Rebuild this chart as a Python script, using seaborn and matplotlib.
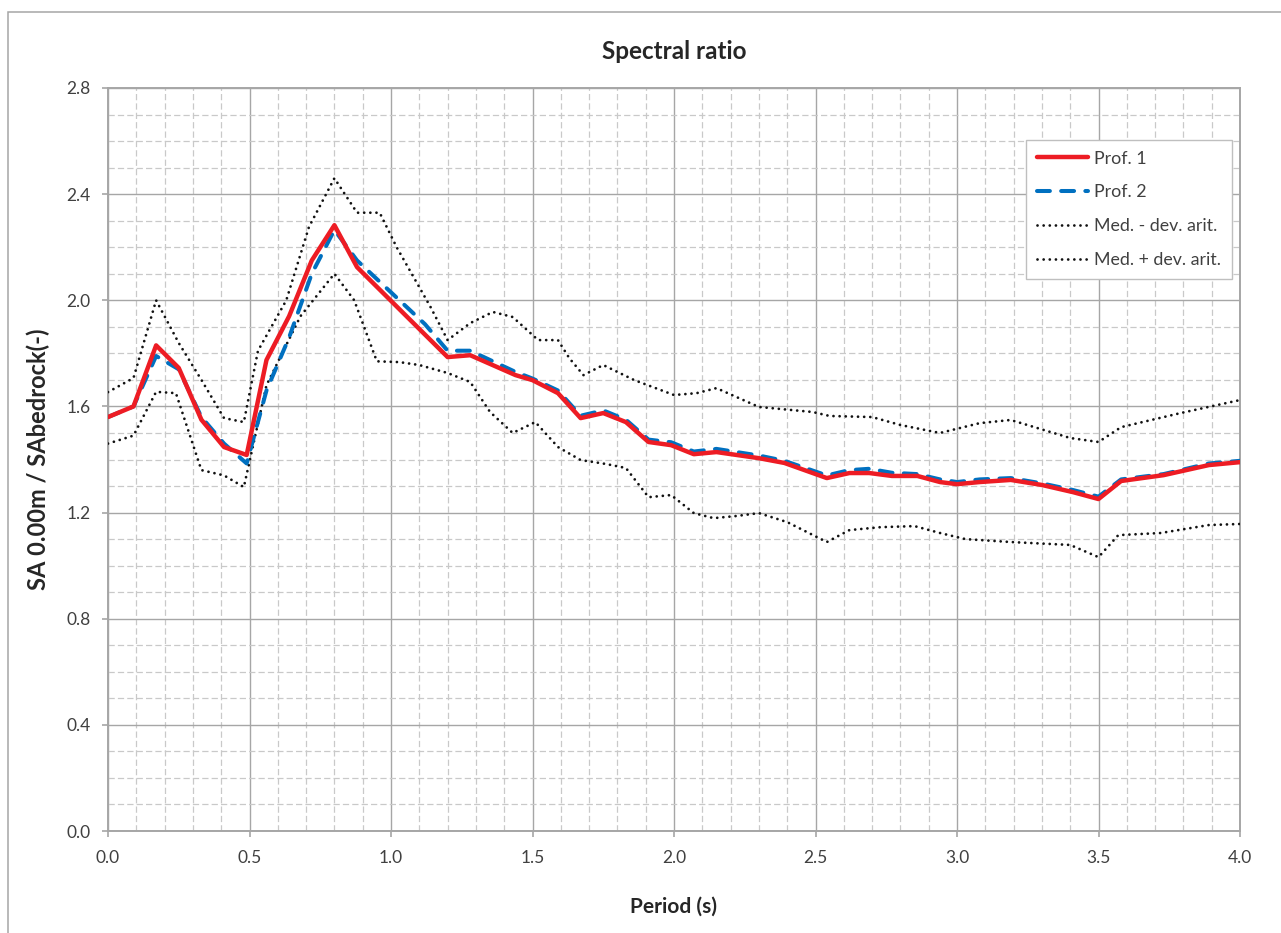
import matplotlib
matplotlib.use("Agg")
import matplotlib.pyplot as plt
from matplotlib.ticker import MultipleLocator, FormatStrFormatter
from matplotlib.patches import Rectangle
import seaborn as sns

# Prof. 1
period_p1 = [0.00, 0.09, 0.17, 0.25, 0.33, 0.41, 0.49, 0.56, 0.64, 0.72, 0.80, 0.88,
             1.20, 1.28, 1.44, 1.50, 1.59, 1.67, 1.75, 1.83, 1.91, 1.99, 2.07, 2.15,
             2.30, 2.39, 2.54, 2.62, 2.69, 2.77, 2.86, 2.94, 3.00, 3.08, 3.19, 3.30,
             3.41, 3.50, 3.58, 3.73, 3.89, 4.00]
ratio_p1 = [1.56, 1.60, 1.83, 1.745, 1.55, 1.447, 1.417, 1.775, 1.94, 2.15, 2.283, 2.125,
            1.786, 1.793, 1.718, 1.699, 1.65, 1.556, 1.575, 1.541, 1.466, 1.454, 1.42, 1.428,
            1.405, 1.387, 1.33, 1.349, 1.349, 1.338, 1.338, 1.315, 1.307, 1.315, 1.323, 1.304,
            1.277, 1.251, 1.319, 1.341, 1.379, 1.39]

# Prof. 2
period_p2 = [0.00, 0.09, 0.17, 0.25, 0.33, 0.41, 0.49, 0.56, 0.64, 0.72, 0.80, 0.88,
             0.96, 1.04, 1.12, 1.20, 1.28, 1.44, 1.50, 1.59, 1.67, 1.75, 1.83, 1.91,
             1.99, 2.07, 2.15, 2.30, 2.39, 2.54, 2.62, 2.69, 2.77, 2.86, 2.94, 3.00,
             3.08, 3.19, 3.30, 3.41, 3.50, 3.58, 3.73, 3.89, 4.00]
ratio_p2 = [1.56, 1.60, 1.79, 1.74, 1.56, 1.46, 1.385, 1.66, 1.86, 2.10, 2.265, 2.15,
            2.07, 1.99, 1.91, 1.81, 1.81, 1.73, 1.705, 1.66, 1.565, 1.585, 1.55, 1.475,
            1.465, 1.43, 1.44, 1.415, 1.395, 1.34, 1.36, 1.365, 1.35, 1.345, 1.325, 1.315,
            1.325, 1.33, 1.31, 1.285, 1.26, 1.325, 1.345, 1.385, 1.395]

# Median minus arithmetic deviation
period_lo = [0.00, 0.09, 0.17, 0.24, 0.33, 0.41, 0.48, 0.56, 0.68, 0.80, 0.87, 0.95,
             1.03, 1.10, 1.20, 1.28, 1.35, 1.43, 1.51, 1.59, 1.67, 1.76, 1.83, 1.91,
             1.99, 2.07, 2.14, 2.22, 2.30, 2.40, 2.54, 2.62, 2.73, 2.85, 2.94, 3.03,
             3.19, 3.40, 3.50, 3.57, 3.72, 3.89, 4.00]
ratio_lo = [1.46, 1.49, 1.655, 1.65, 1.36, 1.34, 1.296, 1.68, 1.94, 2.10, 2.00, 1.77,
            1.767, 1.756, 1.726, 1.692, 1.579, 1.50, 1.541, 1.447, 1.398, 1.383, 1.368, 1.258,
            1.266, 1.198, 1.179, 1.187, 1.198, 1.164, 1.089, 1.134, 1.145, 1.149, 1.123, 1.10,
            1.089, 1.078, 1.032, 1.115, 1.123, 1.153, 1.157]

# Median plus arithmetic deviation
period_hi = [0.00, 0.09, 0.17, 0.25, 0.33, 0.41, 0.48, 0.53, 0.63, 0.71, 0.80, 0.88,
             0.96, 1.02, 1.08, 1.14, 1.20, 1.28, 1.36, 1.43, 1.52, 1.59, 1.63, 1.68,
             1.75, 1.86, 2.00, 2.08, 2.15, 2.30, 2.49, 2.55, 2.70, 2.80, 2.94, 3.08,
             3.19, 3.40, 3.50, 3.58, 3.79, 4.00]
ratio_hi = [1.654, 1.707, 2.00, 1.839, 1.70, 1.556, 1.541, 1.81, 2.00, 2.276, 2.46, 2.33,
            2.33, 2.20, 2.087, 1.974, 1.85, 1.914, 1.956, 1.937, 1.85, 1.85, 1.782, 1.718,
            1.756, 1.699, 1.643, 1.65, 1.669, 1.598, 1.579, 1.564, 1.56, 1.53, 1.50, 1.537,
            1.549, 1.481, 1.466, 1.522, 1.575, 1.624]

labels = ["Prof. 1", "Prof. 2", "Med. - dev. arit.", "Med. + dev. arit."]

sns.set_theme(style="white")
plt.rcParams["font.family"] = ["Lato", "DejaVu Sans"]

TEXT = "#404040"
MAJOR = "#A6A6A6"
MINOR = "#C9C9C9"

fig = plt.figure(figsize=(12.81, 9.33), dpi=100)
ax = fig.add_axes([108 / 1281, 1 - 831 / 933, (1240 - 108) / 1281, (831 - 88) / 933])

# outer chart frame
fig.patches.append(Rectangle((8 / 1281, -0.05), 1.2, 1 - 12 / 933 + 0.05,
                             transform=fig.transFigure, fill=False,
                             edgecolor=MAJOR, linewidth=1.1, zorder=0))

sns.lineplot(x=period_p1, y=ratio_p1, ax=ax, color="#ED1C24", linewidth=3.2,
             label=labels[0], estimator=None, sort=False, zorder=5,
             solid_capstyle="round", solid_joinstyle="round")
sns.lineplot(x=period_p2, y=ratio_p2, ax=ax, color="#0070C0", linewidth=2.9,
             linestyle=(0, (3.2, 2.8)), dash_capstyle="round", dash_joinstyle="round",
             label=labels[1], estimator=None, sort=False, zorder=4)
sns.lineplot(x=period_lo, y=ratio_lo, ax=ax, color="#111111", linewidth=2.0,
             linestyle=(0, (0.01, 2.2)), dash_capstyle="round",
             label=labels[2], estimator=None, sort=False, zorder=3)
sns.lineplot(x=period_hi, y=ratio_hi, ax=ax, color="#111111", linewidth=2.0,
             linestyle=(0, (0.01, 2.2)), dash_capstyle="round",
             label=labels[3], estimator=None, sort=False, zorder=3)

ax.set_xlim(0, 4.0)
ax.set_ylim(0, 2.8)
ax.xaxis.set_major_locator(MultipleLocator(0.5))
ax.xaxis.set_minor_locator(MultipleLocator(0.1))
ax.yaxis.set_major_locator(MultipleLocator(0.4))
ax.yaxis.set_minor_locator(MultipleLocator(0.1))
ax.xaxis.set_major_formatter(FormatStrFormatter("%.1f"))
ax.yaxis.set_major_formatter(FormatStrFormatter("%.1f"))

ax.grid(which="minor", color=MINOR, linewidth=0.9, linestyle=(0, (5, 2.5)), zorder=0)
ax.grid(which="major", color=MAJOR, linewidth=1.0, linestyle="-", zorder=1)
ax.set_axisbelow(True)

for side in ["left", "bottom", "top", "right"]:
    ax.spines[side].set_visible(True)
    ax.spines[side].set_color(MAJOR)
    ax.spines[side].set_linewidth(1.4)

ax.tick_params(which="major", direction="out", length=4.5, width=1.2, color=MAJOR,
               labelsize=12.5, labelcolor=TEXT, left=True, bottom=True)
ax.tick_params(axis="y", which="major", pad=8)
ax.tick_params(axis="x", which="major", pad=9)
ax.tick_params(which="minor", length=0)

ax.set_title("Spectral ratio", fontsize=17.5, fontweight="bold", color="#262626", pad=21)
ax.set_xlabel("Period (s)", fontsize=15, fontweight="bold", color="#262626", labelpad=22)
ax.set_ylabel("SA 0.00m / SAbedrock(-)", fontsize=17, fontweight="bold", color="#262626",
              labelpad=12)

leg = ax.legend(loc="upper right", bbox_to_anchor=(0.993, 0.930), fontsize=12.8,
                frameon=True, fancybox=False, edgecolor="#BFBFBF", framealpha=1,
                handlelength=2.9, handletextpad=0.35, labelspacing=1.0,
                borderpad=0.6, borderaxespad=0)
leg.get_frame().set_linewidth(1.0)
for t in leg.get_texts():
    t.set_color(TEXT)

fig.savefig("out.png", dpi=100)
